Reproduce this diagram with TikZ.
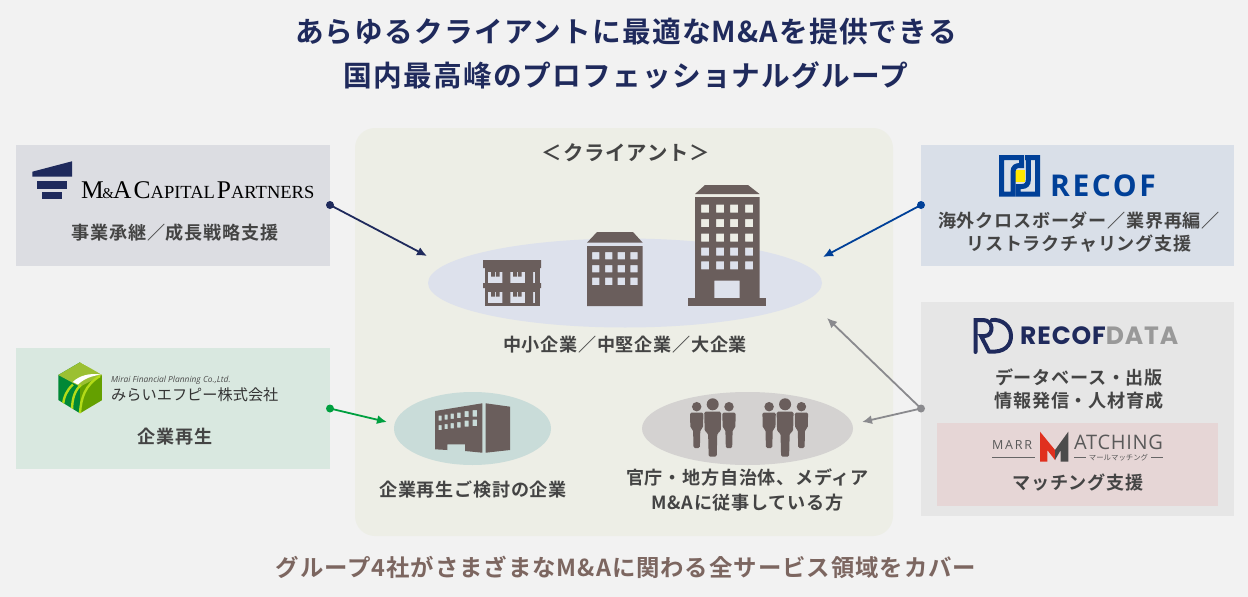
\documentclass[tikz,border=0pt]{standalone}
\usepackage{fontspec}
\setmainfont{Noto Sans CJK JP}
\newfontfamily\headfont[LetterSpace=4]{Noto Sans CJK JP Bold}
\newfontfamily\romanlogo{Liberation Serif}
\newfontfamily\sanslogo{Open Sans}
\newfontfamily\widelogo{Poppins}
\usetikzlibrary{arrows.meta}

\definecolor{pagebg}{HTML}{F2F2F2}
\definecolor{panelbg}{HTML}{EDEEE6}
\definecolor{navy}{HTML}{1F2A5C}
\definecolor{recofblue}{HTML}{004098}
\definecolor{miraigreen}{HTML}{00A040}
\definecolor{pointgray}{HTML}{8A8A8E}
\definecolor{bldg}{HTML}{6A5E5C}
\definecolor{bodytext}{HTML}{444444}
\definecolor{footbrown}{HTML}{7C6660}
\definecolor{ellblue}{HTML}{DDE1EC}
\definecolor{ellgreen}{HTML}{C9DCD9}
\definecolor{ellgray}{HTML}{D4D2D1}
\definecolor{marrred}{HTML}{E0301E}
\definecolor{capitalfill}{HTML}{DCDDE2}
\definecolor{miraifill}{HTML}{D9E8E0}
\definecolor{recoffill}{HTML}{D9DFE8}
\definecolor{datafill}{HTML}{E6E6E6}
\definecolor{marrfill}{HTML}{E6D6D6}

\tikzset{
    x=1pt, y=-1pt,
    companybox/.style={inner sep=0, outer sep=0, minimum width=314, minimum height=121},
    bodylabel/.style={text=bodytext, align=center, inner sep=0, font=\fontsize{18.1}{23}\headfont},
    headlabel/.style={text=navy, align=center, inner sep=0, font=\fontsize{28.7}{44}\headfont},
    dotnode/.style={circle, fill=#1, inner sep=0, minimum size=8},
    pointer/.style={draw=#1, line width=1.8pt, -{Latex[length=10pt,width=9pt]}},
    pics/person/.style={code={
        \fill[bldg] (0,0) circle (6);
        \fill[bldg, rounded corners=1.5] (-8.5,7.4) -- (8.5,7.4) -- (8,27) -- (4.6,29) -- (4,52.4) -- (-4,52.4) -- (-4.6,29) -- (-8,27) -- cycle;
    }},
}

\begin{document}
\begin{tikzpicture}
    \useasboundingbox (0,0) rectangle (1248,597);
    \fill[pagebg] (0,0) rectangle (1248,597);

    % Boxes and panel:
    \fill[panelbg, rounded corners=20] (355,128) rectangle (893,536);
    \node[companybox, fill=capitalfill] (capitalbox) at (173,205.5) {};
    \node[companybox, fill=miraifill] (miraibox) at (173,408.5) {};
    \node[companybox, fill=recoffill, minimum width=313] (recofbox) at (1077.5,205.5) {};
    \node[companybox, fill=datafill, minimum width=313, minimum height=214] (databox) at (1077.5,409) {};
    \node[companybox, fill=marrfill, minimum width=281, minimum height=83] (marrbox) at (1077.5,464.5) {};

    % Ellipses:
    \fill[ellblue] (625,283) ellipse (197 and 44.5);
    \fill[ellgreen] (472.5,428.5) ellipse (78.5 and 36.5);
    \fill[ellgray] (747.5,428.5) ellipse (105.5 and 36.5);

    % Titles:
    \node[headlabel] (title) at (626,54) {あらゆるクライアントに最適なM\&Aを提供できる\\国内最高峰のプロフェッショナルグループ};
    \node[text=footbrown, inner sep=0, font=\fontsize{23.4}{23}\headfont] (footer) at (626,567) {グループ4社がさまざまなM\&Aに関わる全サービス領域をカバー};
    \node[text=bodytext, inner sep=0, font=\fontsize{20.4}{20}\headfont] (clientlabel) at (626,152.5) {＜クライアント＞};

    % Large building:
    \fill[bldg] (705,185) -- (748,185) -- (759.5,194) -- (695,194) -- cycle;
    \fill[bldg] (688,298) rectangle (766,306);
    \fill[bldg, even odd rule] (695,197) rectangle (759.5,298) (714.3,280.7) rectangle (739.7,298)
        \foreach \xa in {701,716,730,745}{\foreach \ya in {204.7,219,233.7,247.7,261.3}{ (\xa,\ya) rectangle ++(8,8) }};

    % Middle building:
    \fill[bldg] (597,232) -- (633,232) -- (642.7,242.7) -- (587,242.7) -- cycle;
    \fill[bldg, even odd rule] (587,246) rectangle (642.7,306)
        \foreach \xa in {592,605,617.7,630.3}{\foreach \ya in {252,265,277.7}{ (\xa,\ya) rectangle ++(7.3,7.3) }};

    % Small building:
    \fill[bldg] (484.5,260) rectangle (539.5,306);
    \fill[bldg] (483,260) rectangle (541,268) (483,283) rectangle (541,288);
    \foreach \ya in {271.7,291.7}{
        \fill[ellblue] (488.3,\ya) rectangle (535,\ya+11);
        \fill[bldg] (502.3,\ya) rectangle (510.3,\ya+11.5) (525,\ya) rectangle (533,\ya+11.5);
        \fill[bldg] (491,\ya) rectangle ++(3.8,5) (495.8,\ya) rectangle ++(3.8,5);
        \fill[bldg] (513,\ya) rectangle ++(3.8,5) (517.8,\ya) rectangle ++(3.8,5);
    }

    % Factory building:
    \fill[bldg, even odd rule] (435,411) -- (482.3,403.3) -- (482.3,452.7) -- (465,451) -- (465,444.3) -- (447.3,444.3) -- (447.3,450) -- (435,449.3) -- cycle
        \foreach \xa/\ya/\wa in {438.5/415.5/3,444.5/414.5/3,450.5/413.5/3.3,457/412.5/3.5,464.5/411/4,472.5/410/4.5}{
            (\xa,\ya) rectangle ++(\wa,\wa+2) (\xa,\ya+9.5) rectangle ++(\wa,\wa+2) };
    \fill[bldg] (485.7,403.3) -- (510,406.7) -- (510,450) -- (485.7,452.7) -- cycle;

    % People:
    \foreach \xa in {0,72.4}{
        \pic[scale=.79] at (696.7+\xa,406.7) {person};
        \pic[scale=.79] at (729+\xa,406.7) {person};
        \pic at (712.7+\xa,404.3) {person};
    }

    % Logo of capital partners:
    \fill[navy] (32.3,171.7) -- (72,161.3) -- (72,176.7) -- (32.3,176.7) -- cycle;
    \fill[navy] (37.3,180.7) rectangle (67,189);
    \fill[navy] (42.3,192.3) rectangle (62,199);
    \node[anchor=base west, inner sep=0, text=black, font=\romanlogo] (capitallogo) at (81,198.7) {\fontsize{25.5}{25}\selectfont M\kern-1.5pt\fontsize{15}{15}\selectfont\&\kern-.8pt\fontsize{25.5}{25}\selectfont A\kern2pt C\fontsize{18.5}{18}\selectfont APITAL\kern2pt\fontsize{25.5}{25}\selectfont P\fontsize{18.5}{18}\selectfont ARTNERS};

    % Logo of mirai:
    \begin{scope}
        \clip (80,362.3) -- (102.3,375) -- (102.3,400) -- (80,413.3) -- (58.3,400) -- (58.3,375) -- cycle;
        \fill[miraigreen!85!black] (58,362) rectangle (80,414);
        \fill[green!45!black!30!lime!75!black] (80,375) rectangle (103,414);
        \fill[yellow!65!green!85!black] (80,362.3) -- (102.3,375) -- (80,386.7) -- (58.3,375) -- cycle;
        \fill[white] (72.7,382) .. controls (80,375) and (90,373) .. (101,374.5) .. controls (92,376) and (85,378) .. (78,384.5) -- cycle;
        \draw[yellow!70!green, line width=2.4] (63,405) .. controls (64,396) and (67,390) .. (73,384.5);
        \draw[yellow!70!green, line width=2.4] (72,411) .. controls (72,398) and (75,390) .. (81,385);
        \draw[yellow!70!green, line width=2.4] (80,413) .. controls (81,398) and (85,385) .. (100,376);
    \end{scope}
    \node[anchor=west, inner sep=0, text=black!70, font=\fontsize{8.4}{8}\sanslogo\itshape] (miraien) at (111,380.5) {Mirai Financial Planning Co.,Ltd.};
    \node[anchor=west, inner sep=0, text=black!80, font=\fontsize{15.2}{15}\selectfont] (miraija) at (111,394.5) {みらいエフピー株式会社};

    % Logo of recof:
    \fill[yellow!90!orange] (1015,170) rectangle (1025,181.7);
    \draw[recofblue, line width=5] (1021.5,157.5) -- (1001.5,157.5) -- (1001.5,194.2) -- (1013,194.2) (1013,196.7) -- (1013,172) .. controls (1013,167) and (1016,165.5) .. (1020,165.5) -- (1021.5,165.5) -- (1021.5,155);
    \draw[recofblue, line width=5] (1025,157.5) -- (1037.7,157.5) -- (1037.7,194.2) -- (1018,194.2) -- (1018,186.5) -- (1022,186.5) .. controls (1026,186.5) and (1028.3,184) .. (1028.3,180) -- (1028.3,155);
    \node[anchor=base west, inner sep=0, text=recofblue, font=\fontsize{30}{30}\sanslogo\bfseries\addfontfeature{LetterSpace=8.5}] (recoflogo) at (1050,196) {RECOF};

    % Logo of recof data:
    \draw[navy, line width=4, line cap=round] (975.5,352) -- (975.5,320) -- (983,320) .. controls (994,320) and (994,335.5) .. (985,336) -- (981,336) -- (989,351.5) .. controls (1005,353) and (1011,345) .. (1011,336) .. controls (1011,326) and (1002,319) .. (992,320);
    \node[anchor=base west, inner sep=0, font=\fontsize{25}{24}\widelogo\bfseries\addfontfeature{LetterSpace=3.5}] (datalogo) at (1020,344) {\textcolor{navy}{RECOF}\textcolor{black!40}{DATA}};

    % Logo of marr matching:
    \node[anchor=base west, inner sep=0, text=black!65, font=\fontsize{12.5}{12}\sanslogo\addfontfeature{LetterSpace=14}] (marrlogo) at (992,449.3) {MARR};
    \fill[marrred] (1040,431.7) -- (1055,450) -- (1055,460) -- (1047.3,450) -- (1047.3,461.7) -- (1040,461.7) -- cycle;
    \fill[black!70] (1068.3,431.7) -- (1055,450) -- (1055,460) -- (1060.7,450) -- (1060.7,461.7) -- (1068.3,461.7) -- cycle;
    \node[anchor=base west, inner sep=0, text=black!65, font=\fontsize{20}{20}\sanslogo\addfontfeature{LetterSpace=3.5}] (matchinglogo) at (1074,449.3) {ATCHING};
    \node[inner sep=0, text=black!65, font=\fontsize{7.4}{7}\selectfont] (marrkana) at (1118.5,457.3) {マールマッチング};
    \draw[black!60, line width=.8] (992,457.3) -- (1035,457.3) (1074.3,457.3) -- (1086,457.3) (1151,457.3) -- (1163.3,457.3);

    % Labels:
    \node[bodylabel] (capitaltext) at (175,233) {事業承継／成長戦略支援};
    \node[bodylabel] (miraitext) at (175,437) {企業再生};
    \node[bodylabel] (recoftext) at (1079,232.5) {海外クロスボーダー／業界再編／\\リストラクチャリング支援};
    \node[bodylabel] (datatext) at (1079,389.5) {データベース・出版\\情報発信・人材育成};
    \node[bodylabel] (marrtext) at (1078,483) {マッチング支援};
    \node[bodylabel] (sizetext) at (625,345) {中小企業／中堅企業／大企業};
    \node[bodylabel] (revivaltext) at (473,490) {企業再生ご検討の企業};
    \node[bodylabel, font=\fontsize{18.1}{25}\headfont] (publictext) at (747.5,490.5) {官庁・地方自治体、メディア\\M\&Aに従事している方};

    % Dots and arrows:
    \node[dotnode=navy] (capitaldot) at (330,205) {};
    \node[dotnode=miraigreen] (miraidot) at (330,408.5) {};
    \node[dotnode=recofblue] (recofdot) at (921,205) {};
    \node[dotnode=pointgray] (datadot) at (921,408.5) {};
    \coordinate (capitalend) at (427,256);
    \coordinate (miraiend) at (387,422);
    \coordinate (recofend) at (823,257);
    \coordinate (sizeend) at (827,318);
    \coordinate (publicend) at (862,422);
    \draw[pointer=navy] (capitaldot.center) -- (capitalend);
    \draw[pointer=miraigreen] (miraidot.center) -- (miraiend);
    \draw[pointer=recofblue] (recofdot.center) -- (recofend);
    \draw[pointer=pointgray] (datadot.center) -- (sizeend);
    \draw[pointer=pointgray] (datadot.center) -- (publicend);
\end{tikzpicture}
\end{document}
